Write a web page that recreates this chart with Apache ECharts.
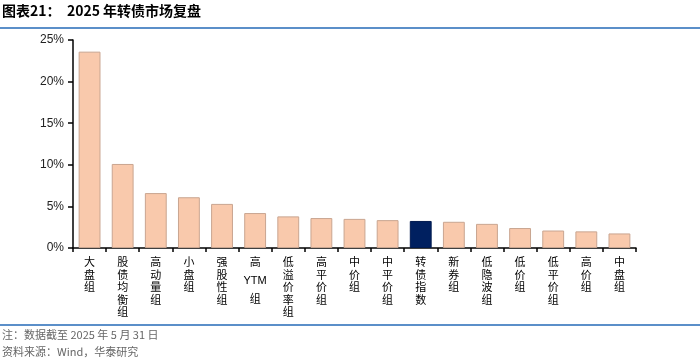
<!DOCTYPE html>
<html><head><meta charset="utf-8">
<script src="https://cdn.jsdelivr.net/npm/echarts@6/dist/echarts.min.js"></script>
<style>html,body{margin:0;padding:0;background:#fff}#c{width:700px;height:363px}</style>
</head><body><div id="c"></div>
<script>
const categories = ['大盘组','股债均衡组','高动量组','小盘组','强股性组','高YTM组','低溢价率组','高平价组','中价组','中平价组','转债指数','新券组','低隐波组','低价组','低平价组','高价组','中盘组'];
const values = [23.6, 10.1, 6.6, 6.1, 5.3, 4.2, 3.8, 3.6, 3.5, 3.35, 3.25, 3.15, 2.9, 2.4, 2.1, 2.0, 1.75];
const highlight = '转债指数';
const yTicks = [0, 5, 10, 15, 20, 25];
const titleText = '图表21：  2025 年转债市场复盘';
const note1 = '注：数据截至 2025 年 5 月 31 日';
const note2 = '资料来源：Wind，华泰研究';

const chart = echarts.init(document.getElementById('c'), null, {renderer:'canvas'});
const cjk = '"Noto Sans CJK SC", sans-serif';
chart.setOption({
  animation:false,
  backgroundColor:'#fff',
  graphic:[
    {type:'text', left:2, top:4, style:{text:titleText, font:'bold 14px "Noto Sans CJK SC", sans-serif', fill:'#000'}},
    {type:'rect', left:0, top:27, shape:{width:700, height:2}, style:{fill:'#5B8FC9'}},
    {type:'rect', left:0, top:324, shape:{width:700, height:2}, style:{fill:'#5B8FC9'}},
    {type:'text', left:2, top:329, style:{text:note1, font:'11px "Noto Sans CJK SC", sans-serif', fill:'#666'}},
    {type:'text', left:2, top:346, style:{text:note2, font:'11px "Noto Sans CJK SC", sans-serif', fill:'#666'}}
  ],
  grid:{left:73, right:64, top:40, bottom:115, containLabel:false},
  xAxis:{
    type:'category', data:categories,
    axisLine:{lineStyle:{color:'#000', width:1.5}},
    axisTick:{show:true, alignWithLabel:false, length:4, lineStyle:{color:'#000', width:1.5}},
    axisLabel:{
      interval:0, margin:8, color:'#000', fontSize:11, fontFamily:cjk, lineHeight:12.5,
      formatter:function(v){
        if (v.indexOf('YTM')>=0) return '高\n{y|YTM}\n组';
        return v.split('').join('\n');
      },
      rich:{y:{fontSize:11, lineHeight:24, fontFamily:'"Liberation Sans", Arial, sans-serif', color:'#000'}},
      verticalAlign:'top'
    }
  },
  yAxis:{
    type:'value', min:0, max:25, interval:5,
    axisLine:{show:true, lineStyle:{color:'#000', width:1.5}},
    axisTick:{show:true, length:5, lineStyle:{color:'#000', width:1.5}},
    splitLine:{show:false},
    axisLabel:{formatter:'{value}%', color:'#222', fontSize:12, fontFamily:'"Liberation Sans", Arial, sans-serif', margin:9}
  },
  series:[{
    type:'bar', barCategoryGap:'34%',
    data: values.map((v,i)=>({value:v, itemStyle:{color: categories[i]===highlight ? '#002060' : '#F9C9AC', borderColor: categories[i]===highlight ? '#001a50' : '#C9A590', borderWidth:1}}))
  }]
});
</script></body></html>
